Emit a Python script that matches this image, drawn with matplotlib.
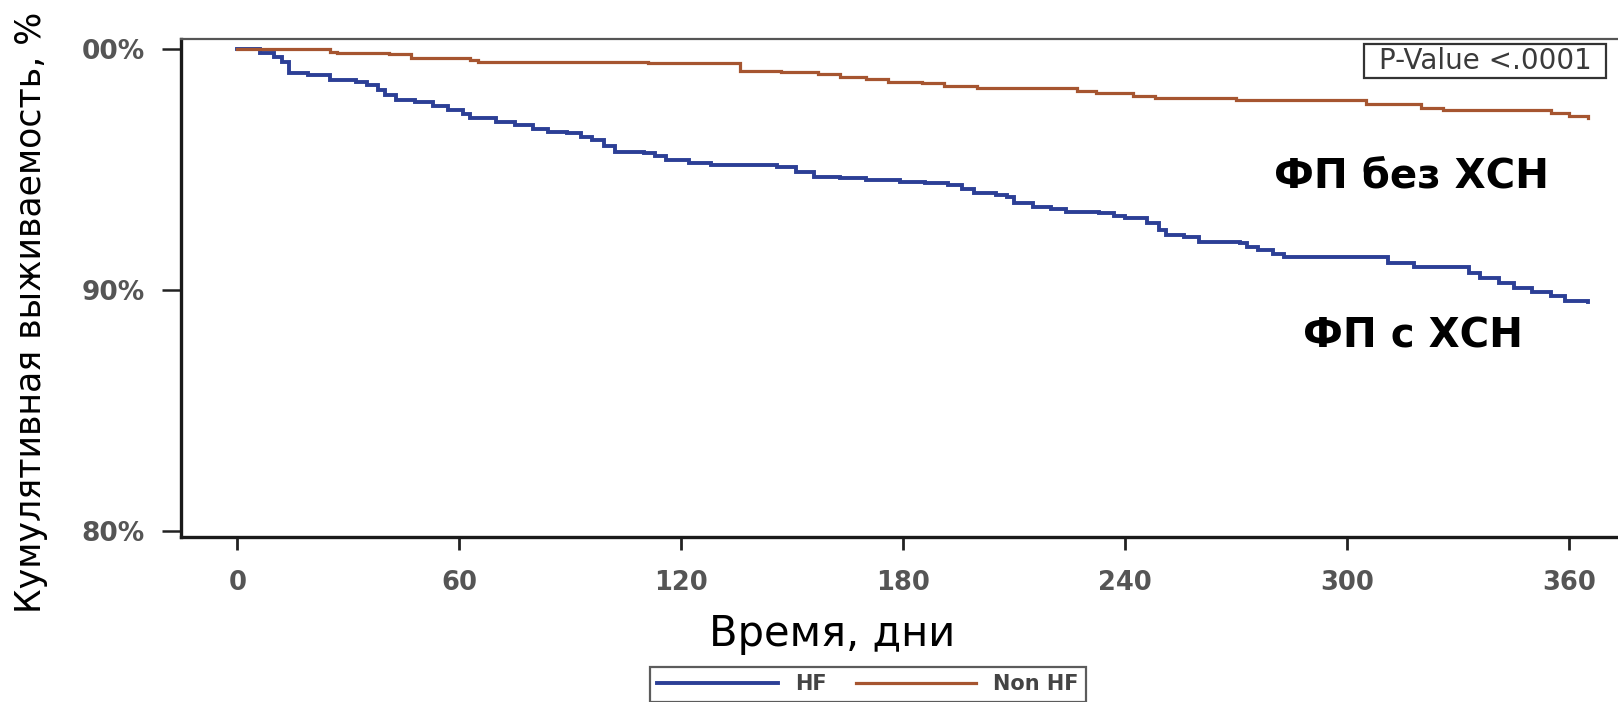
import numpy as np
import matplotlib
matplotlib.use('Agg')
import matplotlib.pyplot as plt
from matplotlib.patches import Rectangle
from matplotlib import rcParams
rcParams['font.family'] = ['DejaVu Sans']

# Kaplan-Meier curves (day, cumulative survival %)
hf_days = [0, 6, 10, 12, 14, 19, 25, 32, 35, 38, 40, 43, 48, 53, 57, 61, 63, 70, 75, 80,
           84, 89, 93, 96, 99, 102, 110, 113, 116, 122, 128, 146, 151, 156, 163, 170, 179,
           186, 192, 196, 199, 205, 208, 210, 215, 220, 224, 233, 237, 240, 246, 249, 251,
           256, 260, 271, 273, 276, 280, 283, 311, 318, 333, 336, 341, 345, 350, 355, 359, 365]
hf_surv = [100, 99.83, 99.69, 99.48, 99.0, 98.93, 98.72, 98.65, 98.52, 98.3, 98.1, 97.89,
           97.82, 97.65, 97.48, 97.3, 97.13, 97.0, 96.86, 96.7, 96.58, 96.51, 96.35, 96.23,
           96.0, 95.75, 95.7, 95.55, 95.4, 95.3, 95.19, 95.1, 94.9, 94.71, 94.64, 94.57,
           94.5, 94.43, 94.36, 94.2, 94.02, 93.95, 93.88, 93.63, 93.46, 93.35, 93.25, 93.19,
           93.08, 92.98, 92.77, 92.5, 92.28, 92.21, 92.0, 91.97, 91.8, 91.66, 91.5, 91.36,
           91.11, 90.94, 90.7, 90.49, 90.28, 90.1, 89.93, 89.75, 89.56, 89.51]

nonhf_days = [0, 25, 27, 41, 47, 63, 65, 111, 136, 147, 157, 163, 170, 176, 185, 191, 200,
              227, 232, 242, 248, 270, 305, 320, 326, 355, 360, 365]
nonhf_surv = [100, 99.9, 99.83, 99.8, 99.63, 99.56, 99.46, 99.42, 99.11, 99.07, 98.97,
              98.84, 98.75, 98.65, 98.61, 98.48, 98.38, 98.28, 98.2, 98.07, 97.99, 97.9,
              97.73, 97.55, 97.48, 97.34, 97.22, 97.13]

x_ticks = [0, 60, 120, 180, 240, 300, 360]
y_ticks = [80, 90, 100]
y_ticklabels = ['80%', '90%', '00%']

W, H = 1618, 702
fig = plt.figure(figsize=(W/100, H/100), dpi=100)
fig.patch.set_facecolor('white')

# axes box in pixel terms of the original picture
ax = fig.add_axes([180.7/W, 1-536.7/H, (W-180.7)/W, (536.7-39.3)/H])
ax.set_xlim(-15.3, 373.2)
ax.set_ylim(79.75, 100.42)

l1, = ax.step(hf_days, hf_surv, where='post', color='#2c3f96', lw=2.8, solid_joinstyle='miter')
l2, = ax.step(nonhf_days, nonhf_surv, where='post', color='#a65530', lw=2.3, solid_joinstyle='miter')

ax.spines['right'].set_visible(False)
ax.spines['left'].set_linewidth(2.4)
ax.spines['left'].set_color('#1a1a1a')
ax.spines['bottom'].set_linewidth(2.4)
ax.spines['bottom'].set_color('#1a1a1a')
ax.spines['top'].set_linewidth(1.6)
ax.spines['top'].set_color('#555555')

ax.set_xticks(x_ticks)
ax.set_xticklabels([str(t) for t in x_ticks])
ax.set_yticks(y_ticks)
ax.set_yticklabels(y_ticklabels)
ax.tick_params(axis='x', direction='out', length=9, width=2, color='#222222', pad=15,
               labelsize=18.5, labelcolor='#555555')
ax.tick_params(axis='y', direction='out', length=14, width=1.8, color='#222222', pad=12,
               labelsize=19, labelcolor='#555555')
for lab in ax.get_xticklabels() + ax.get_yticklabels():
    lab.set_fontweight('bold')

# p-value box
fig.patches.append(Rectangle((1364/W, 1-78/H), (1606-1364)/W, (78-44)/H, transform=fig.transFigure,
                             fill=False, edgecolor='#333333', lw=1.6))
fig.text((1364+1606)/2/W, 1-61/H, 'P-Value <.0001', ha='center', va='center',
         fontsize=20, color='#3a3a3a')

# group labels
fig.text(1412/W, 1-177/H, 'ФП без ХСН', ha='center', va='center', fontsize=29,
         fontweight='bold', color='black')
fig.text(1413/W, 1-337/H, 'ФП с ХСН', ha='center', va='center', fontsize=29,
         fontweight='bold', color='black')

# axis titles
fig.text(832/W, 1-634/H, 'Время, дни', ha='center', va='center', fontsize=30, color='black')
fig.text(31/W, 1-312/H, 'Кумулятивная выживаемость, %', ha='center', va='center',
         rotation=90, fontsize=25, color='black')

leg = fig.legend([l1, l2], ['HF', 'Non HF'], loc='upper left',
                 bbox_to_anchor=(650/W, 1-667/H), ncol=2, frameon=True, fancybox=False,
                 fontsize=15, handlelength=5.8, handletextpad=0.8, columnspacing=1.4,
                 borderpad=0.35, borderaxespad=0)
leg.get_frame().set_edgecolor('#333333')
leg.get_frame().set_linewidth(1.6)
for t in leg.get_texts():
    t.set_color('#444444')
    t.set_fontweight('bold')

fig.savefig('out.png', dpi=100, facecolor='white')
